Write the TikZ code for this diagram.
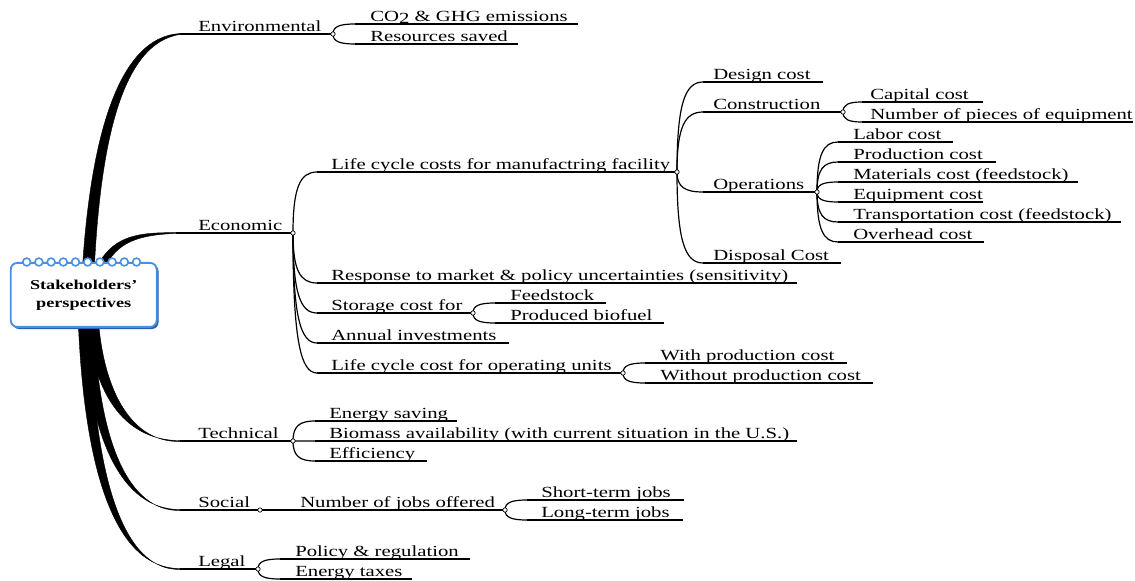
\documentclass[tikz,border=0pt]{standalone}
\usepackage{fontspec}
\setmainfont{Liberation Serif}[FakeStretch=1.34]
\usetikzlibrary{calc}
\definecolor{ringblue}{RGB}{74,144,226}
\definecolor{shadeblue}{RGB}{40,95,170}

% one topic: name, underline start x, underline y, text x, underline end x, text
\newcommand\topic[6]{%
  \coordinate (#1-s) at (#2,#3);
  \coordinate (#1-e) at (#5,#3);
  \node[lbl] (#1) at (#4,#3) {#6};
  \draw[uline] (#1-s) -- (#1-e);
}
% curved connector from a junction to the start of a child's underline
\newcommand\link[2]{%
  \draw[conn] (#1) .. controls ($(#1)!0.75!(#1|-#2)$) and ($(#2)!0.7!(#1|-#2)$) .. (#2);
}

\begin{document}
\begin{tikzpicture}[x=0.75pt,y=-0.75pt,
  lbl/.style={anchor=base west, inner sep=0pt, font=\fontsize{11.6}{14}\selectfont, yshift=1.9pt},
  uline/.style={line width=0.85pt},
  conn/.style={line width=0.9pt},
  junc/.style={circle, draw, fill=white, inner sep=0pt, minimum size=3.3pt, line width=0.5pt},
  trunk/.style={fill=black, draw=black, line width=0.3pt},
  rootbox/.style={draw=ringblue, fill=white, line width=1.4pt, rounded corners=5pt,
    minimum width=109.5pt, minimum height=48pt},
  roottxt/.style={anchor=base, inner sep=0pt, font=\bfseries\fontsize{10.2}{12}\selectfont},
  ring/.style={draw=ringblue, fill=white, line width=1.2pt}]
\useasboundingbox (0,0) rectangle (1135,581);

% ---- main tapered branches from the central topic ----
% Environmental
\path[trunk] (82,275) .. controls (90,138) and (118,37) .. (180,33.5)
  -- (180,34.5) .. controls (122,43) and (100,142) .. (94,275) -- cycle;
% Economic
\path[trunk] (95,270) .. controls (112,236) and (135,232.5) .. (176,232.6)
  -- (176,233.4) .. controls (138,235) and (116,242) .. (104,270) -- cycle;
% Technical
\path[trunk] (86,315) .. controls (93,400) and (128,440.5) .. (180,440.6)
  -- (180,441.4) .. controls (134,443) and (103,395) .. (98,315) -- cycle;
% Social
\path[trunk] (82,315) .. controls (88,440) and (122,509.5) .. (180,509.6)
  -- (180,510.4) .. controls (128,512) and (97,440) .. (94,315) -- cycle;
% Legal
\path[trunk] (78,315) .. controls (84,480) and (118,568.5) .. (180,568.6)
  -- (180,569.4) .. controls (124,571) and (93,480) .. (90,315) -- cycle;

% ---- central topic ----
\fill[shadeblue, rounded corners=5pt] (12.5,264.5) rectangle (158.5,329);
\node[rootbox] (root) at (83.7,294.9) {};
\foreach \i in {0,...,9}
  \draw[ring] (26.7+\i*12.2,262) circle[radius=3.9];
\node[roottxt] (roottop) at (83.7,289) {Stakeholders'};
\node[roottxt] (rootbot) at (83.7,307) {perspectives};

% ---- Environmental ----
\topic{env}{180}{34}{198}{333}{Environmental}
\topic{co2}{355}{24}{370}{578}{CO\raisebox{-0.35ex}{2} \& GHG emissions}
\topic{res}{355}{44}{370}{518}{Resources saved}
\link{env-e}{co2-s}\link{env-e}{res-s}

% ---- Economic ----
\topic{eco}{176}{233}{198}{293}{Economic}
\topic{lcf}{317}{172}{331}{677}{Life cycle costs for manufactring facility}
\topic{design}{703}{82}{713}{823}{Design cost}
\topic{constr}{703}{112}{713}{843}{Construction}
\topic{capital}{862}{102}{870}{983}{Capital cost}
\topic{pieces}{862}{122}{870}{1133}{Number of pieces of equipment}
\topic{ops}{703}{192}{713}{817}{Operations}
\topic{labor}{838}{142}{853}{953}{Labor cost}
\topic{prod}{838}{162}{853}{996}{Production cost}
\topic{mat}{838}{182}{853}{1078}{Materials cost (feedstock)}
\topic{equip}{838}{202}{853}{983}{Equipment cost}
\topic{trans}{838}{222}{853}{1121}{Transportation cost (feedstock)}
\topic{over}{838}{242}{853}{984}{Overhead cost}
\topic{disp}{703}{263}{713}{841}{Disposal Cost}
\topic{resp}{317}{283}{331}{797}{Response to market \& policy uncertainties (sensitivity)}
\topic{stor}{317}{313}{331}{473}{Storage cost for}
\topic{feed}{495}{303}{510}{606}{Feedstock}
\topic{biof}{495}{323}{510}{664}{Produced biofuel}
\topic{annual}{317}{343}{331}{509}{Annual investments}
\topic{lco}{317}{373}{331}{623}{Life cycle cost for operating units}
\topic{withp}{645}{363}{660}{847}{With production cost}
\topic{without}{645}{383}{660}{873}{Without production cost}

\foreach \c in {lcf,resp,stor,annual,lco} {\link{eco-e}{\c-s}}
\foreach \c in {design,constr,ops,disp} {\link{lcf-e}{\c-s}}
\foreach \c in {capital,pieces} {\link{constr-e}{\c-s}}
\foreach \c in {labor,prod,mat,equip,trans,over} {\link{ops-e}{\c-s}}
\foreach \c in {feed,biof} {\link{stor-e}{\c-s}}
\foreach \c in {withp,without} {\link{lco-e}{\c-s}}

% ---- Technical ----
\topic{tech}{180}{441}{198}{293}{Technical}
\topic{energy}{315}{421}{329}{457}{Energy saving}
\topic{biomass}{315}{441}{329}{797}{Biomass availability (with current situation in the U.S.)}
\topic{eff}{315}{461}{329}{427}{Efficiency}
\foreach \c in {energy,biomass,eff} {\link{tech-e}{\c-s}}

% ---- Social ----
\topic{soc}{180}{510}{198}{260}{Social}
\topic{jobs}{260}{510}{300}{505}{Number of jobs offered}
\topic{short}{527}{500}{541}{684}{Short-term jobs}
\topic{long}{527}{520}{541}{683}{Long-term jobs}
\foreach \c in {short,long} {\link{jobs-e}{\c-s}}

% ---- Legal ----
\topic{legal}{180}{569}{198}{258}{Legal}
\topic{policy}{280}{559}{295}{470}{Policy \& regulation}
\topic{taxes}{280}{579}{295}{412}{Energy taxes}
\foreach \c in {policy,taxes} {\link{legal-e}{\c-s}}

% ---- junction markers ----
\foreach \j in {env,eco,lcf,constr,ops,stor,lco,tech,soc,jobs,legal}
  \node[junc] at (\j-e) {};
\end{tikzpicture}
\end{document}
